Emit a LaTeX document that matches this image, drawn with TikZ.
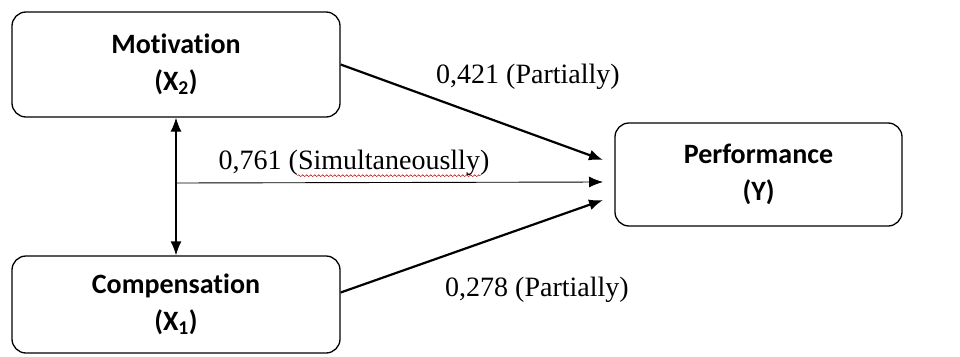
\documentclass[tikz,border=0pt]{standalone}
\usepackage{fontspec}
\setmainfont{Liberation Serif}
\newfontfamily\boxfont[Ligatures=NoCommon]{Carlito}
\usepackage{tikz}
\usetikzlibrary{arrows.meta,calc,positioning,decorations.pathmorphing}

\tikzset{
    varbox/.style={draw,line width=1.3pt,rounded corners=14pt,align=center,
        font=\boxfont\bfseries\fontsize{28}{37}\selectfont},
    coef/.style={inner sep=0pt,font=\fontsize{28}{32}\selectfont},
    tip/.style={-{Latex[length=14pt,width=11pt]}}
}

\begin{document}
\begin{tikzpicture}[x=1pt,y=-1pt]
    \useasboundingbox (0,0) rectangle (960,356);

    % Variables
    \node[varbox,minimum width=328pt,minimum height=105pt] (mot) at (176,64.5) {Motivation\\(X\textsubscript{2})};
    \node[varbox,minimum width=328pt,minimum height=97pt] (comp) at (176,304.5) {Compensation\\(X\textsubscript{1})};
    \node[varbox,minimum width=287pt,minimum height=103pt] (perf) at (758.5,174.5) {Performance\\(Y)};

    % Arrow ends
    \coordinate (inA) at (603,160);
    \coordinate (inB) at (603,182);
    \coordinate (inC) at (603,200);
    \coordinate (sim) at (176,183);

    % Paths
    \draw[tip,line width=2.2pt] (mot.east) -- (inA);
    \draw[tip,line width=2.2pt] ([yshift=12pt]comp.east) -- (inC);
    \draw[tip,line width=0.9pt] (sim) -- (inB);
    \draw[{Latex[length=14pt,width=11pt]}-{Latex[length=14pt,width=11pt]},line width=1.3pt] (mot.south) -- (comp.north);

    % Coefficients
    \node[coef] (pA) at (528,77) {0,421 (Partially)};
    \node[coef] (pS) at (354,163) {0,761 (Simultaneouslly)};
    \node[coef] (pC) at (537,290) {0,278 (Partially)};
    \draw[red!70!black,line width=0.5pt,decorate,decoration={snake,amplitude=0.9pt,segment length=4pt}]
        ($(pS.base west)+(79,6)$) -- ($(pS.base east)+(-9,6)$);
\end{tikzpicture}
\end{document}
